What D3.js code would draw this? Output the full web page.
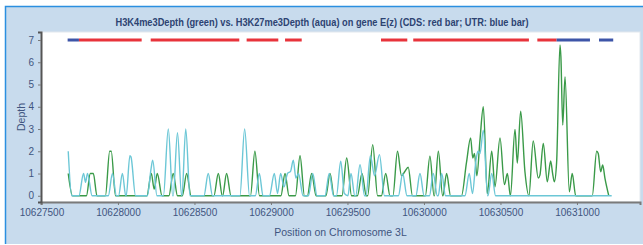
<!DOCTYPE html>
<html>
<head>
<meta charset="utf-8">
<script src="https://cdn.jsdelivr.net/npm/d3@7"></script>
<style>
  body { margin: 0; background: #fff; }
  text { font-family: "Liberation Sans", Arial, sans-serif; }
</style>
</head>
<body>
<svg id="chart" width="643" height="245"></svg>
<script>
const svg = d3.select('#chart');

const title = 'H3K4me3Depth (green) vs. H3K27me3Depth (aqua) on gene E(z) (CDS: red bar; UTR: blue bar)';
const xTicks = [10627500, 10628000, 10628500, 10629000, 10629500, 10630000, 10630500, 10631000];
const yTicks = [0, 1, 2, 3, 4, 5, 6, 7];

// H3K4me3 depth (green)
const greenPos = [10627675, 10627703, 10627794, 10627819, 10627839, 10627863, 10627918, 10627946, 10627956, 10627984,
  10628189, 10628218, 10628237, 10628257, 10628288, 10628333, 10628361, 10628389, 10628421, 10628449, 10628478,
  10628627, 10628656, 10628682, 10628684, 10628710, 10628739, 10628866, 10628895, 10628925,
  10629065, 10629092, 10629118, 10629160, 10629190, 10629219, 10629238, 10629266, 10629295,
  10629359, 10629386, 10629412, 10629464, 10629495, 10629527, 10629565, 10629595, 10629623,
  10629632, 10629665, 10629697, 10629722, 10629750, 10629778,
  10629797, 10629827, 10629853, 10629876, 10629897, 10629925,
  10630009, 10630039, 10630066, 10630068, 10630094, 10630122, 10630124, 10630148, 10630174,
  10630245, 10630278, 10630305, 10630319, 10630330, 10630346, 10630366, 10630388, 10630414, 10630443,
  10630464, 10630497, 10630526, 10630545, 10630565, 10630595, 10630610, 10630632, 10630660, 10630686,
  10630714, 10630747, 10630758, 10630780, 10630806, 10630828, 10630841, 10630852, 10630867, 10630889,
  10630895, 10630907, 10630922, 10630950, 10630969, 10630992,
  10631100, 10631129, 10631139, 10631155, 10631168, 10631183, 10631208];
const greenDepth = [1, 0, 0, 1, 1, 0, 0, 2, 2, 0,
  0, 1, 0.3, 1, 0, 0, 1, 0, 0, 1, 0,
  0, 1, 0, 0, 1, 0, 0, 2, 0,
  0, 1, 0, 0, 1.8, 0, 0, 1, 0,
  0, 1, 0, 0, 1.7, 0, 0, 1, 0,
  0, 2.3, 0, 0, 1, 0,
  0, 2, 0.9, 1.1, 1.28, 0,
  0, 1.78, 0, 0, 2, 0, 0, 1, 0,
  0, 1.5, 2.6, 1.7, 1.9, 0.9, 2.5, 4.0, 0.1, 2.0,
  0.4, 2.6, 0.5, 1.0, 0, 2.98, 1.47, 3.8, 1.08, 0,
  2.46, 0.8, 0.93, 2.35, 0.63, 1.56, 1.0, 0.63, 1.5, 6.78,
  6.25, 3.18, 5.35, 0.18, 1.0, 0,
  0, 2.0, 1.9, 1.08, 1.38, 0.78, 0];

// H3K27me3 depth (aqua)
const aquaPos = [10627675, 10627698, 10627745, 10627775, 10627788, 10627801, 10627831,
  10627937, 10627964, 10627990, 10628004, 10628029, 10628051, 10628054, 10628078, 10628085, 10628115,
  10628192, 10628216, 10628227, 10628255, 10628297, 10628329, 10628358, 10628361, 10628389, 10628416,
  10628418, 10628443, 10628471, 10628562, 10628590, 10628618,
  10628797, 10628828, 10628860, 10628898, 10628924, 10628948,
  10628990, 10629022, 10629043, 10629063, 10629085, 10629108, 10629128, 10629146, 10629163, 10629180, 10629210,
  10629245, 10629273, 10629301, 10629353, 10629381, 10629409,
  10629428, 10629456, 10629480, 10629503, 10629523, 10629548, 10629554, 10629582, 10629612,
  10629621, 10629650, 10629677, 10629709, 10629742,
  10629833, 10629861, 10629889, 10629947, 10629974, 10630001,
  10630036, 10630061, 10630087, 10630093, 10630116, 10630141,
  10630268, 10630296, 10630317, 10630340, 10630353, 10630366, 10630388, 10630416,
  10630418, 10630443, 10630468, 10631227];
const aquaDepth = [2, 0, 0, 1, 0.6, 1, 0,
  0, 1, 0, 0, 1, 0, 0, 1.8, 1.75, 0,
  0, 1.2, 1.6, 0, 0, 3, 0, 0, 2.83, 0,
  0, 3, 0, 0, 1, 0,
  0, 3, 0, 0, 1, 0,
  0, 1, 0.1, 1, 0.4, 1, 1.1, 1.6, 0.8, 1, 0,
  0, 1, 0, 0, 1, 0,
  0, 1.55, 0.1, 0, 1, 0, 0, 1.4, 0,
  0, 1.8, 0.9, 1.85, 0,
  0, 1, 0, 0, 1, 0,
  0, 1, 0, 0, 1, 0,
  0, 1, 0.1, 1.6, 2, 1.9, 2.95, 0,
  0, 1, 0, 0];

// gene structure bars drawn at depth 7
const barStart = [10627671, 10627745, 10628214, 10628841, 10629092, 10629719, 10629930, 10630741, 10630867, 10631144];
const barEnd   = [10627745, 10628155, 10628793, 10629048, 10629201, 10629891, 10630686, 10630867, 10631085, 10631237];
const barType  = ['UTR', 'CDS', 'CDS', 'CDS', 'CDS', 'CDS', 'CDS', 'CDS', 'UTR', 'UTR'];

const plotLeft = 41, plotRight = 640, plotTop = 32, plotBottom = 202;

const x = d3.scaleLinear().domain([10627497, 10631412]).range([plotLeft, plotRight]);
const y = d3.scaleLinear().domain([-0.28, 7.36]).range([plotBottom, plotTop]);

// panel
svg.append('rect').attr('x', 5).attr('y', 6).attr('width', 638).attr('height', 238)
  .attr('fill', '#c8dbed');
svg.append('path').attr('d', 'M5.5,244V6.5H643')
  .attr('fill', 'none').attr('stroke', '#2b8fe0').attr('stroke-width', 1.5);

svg.append('text').attr('x', 322).attr('y', 26).attr('text-anchor', 'middle')
  .attr('font-size', 10.5).attr('font-weight', 'bold').attr('fill', '#2d4372')
  .attr('textLength', 413).attr('lengthAdjust', 'spacingAndGlyphs')
  .text(title);

// plot area
svg.append('rect').attr('x', plotLeft).attr('y', plotTop)
  .attr('width', plotRight - plotLeft).attr('height', plotBottom - plotTop)
  .attr('fill', '#fff').attr('stroke', '#e2e8ee').attr('stroke-width', 1);

// axes
const xAxis = d3.axisBottom(x).tickValues(xTicks).tickFormat(d3.format('d')).tickSize(3).tickPadding(4);
const gx = svg.append('g').attr('transform', `translate(0,${plotBottom})`).call(xAxis);
gx.select('.domain').attr('stroke', '#7a7a7a').attr('stroke-width', 2);
gx.selectAll('.tick line').attr('stroke', '#7a7a7a');
gx.selectAll('.tick text').attr('font-size', 10).attr('fill', '#3f5580')
  .attr('font-family', '"Liberation Sans", Arial, sans-serif');

const yAxis = d3.axisLeft(y).tickValues(yTicks).tickSize(3).tickPadding(4);
const gy = svg.append('g').attr('transform', `translate(${plotLeft},0)`).call(yAxis);
gy.select('.domain').attr('stroke', '#555').attr('stroke-width', 2);
gy.selectAll('.tick line').attr('stroke', '#7a7a7a');
gy.selectAll('.tick text').attr('font-size', 10).attr('fill', '#3f5580')
  .attr('font-family', '"Liberation Sans", Arial, sans-serif');

svg.append('text').attr('transform', `translate(25,${(plotTop + plotBottom) / 2}) rotate(-90)`)
  .attr('text-anchor', 'middle').attr('font-size', 10.5).attr('fill', '#3f5580')
  .text('Depth');
svg.append('text').attr('x', (plotLeft + plotRight) / 2).attr('y', 236)
  .attr('text-anchor', 'middle').attr('font-size', 10.5).attr('fill', '#3f5580')
  .text('Position on Chromosome 3L');

// gene bars
const bars = barStart.map((s, i) => ({ s, e: barEnd[i], t: barType[i] }));
svg.append('g').selectAll('line').data(bars).enter().append('line')
  .attr('x1', d => x(d.s)).attr('x2', d => x(d.e))
  .attr('y1', y(7)).attr('y2', y(7))
  .attr('stroke', d => d.t === 'CDS' ? '#e8333b' : '#3d55a8')
  .attr('stroke-width', 3);

// depth lines
const line = d3.line().x(d => x(d[0])).y(d => y(d[1])).curve(d3.curveMonotoneX);
const green = greenPos.map((p, i) => [p, greenDepth[i]]);
const aqua = aquaPos.map((p, i) => [p, aquaDepth[i]]);

svg.append('path').datum(green).attr('d', line)
  .attr('fill', 'none').attr('stroke', '#3a9a48').attr('stroke-width', 1.4);
svg.append('path').datum(aqua).attr('d', line)
  .attr('fill', 'none').attr('stroke', '#6cc7d6').attr('stroke-width', 1.4);
</script>
</body>
</html>
